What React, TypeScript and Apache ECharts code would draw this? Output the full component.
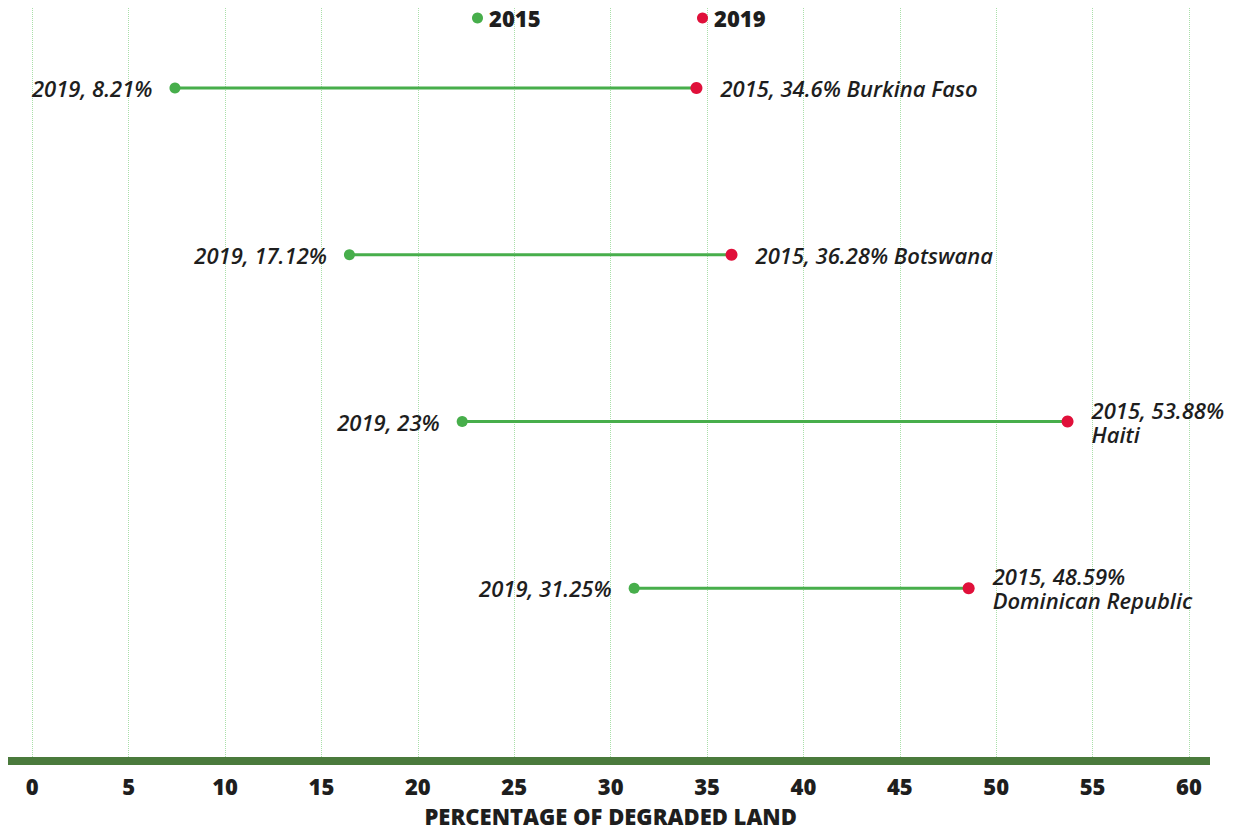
import React, { useEffect, useRef } from "react";
import * as echarts from "echarts";

const countries = ["Burkina Faso", "Botswana", "Haiti", "Dominican Republic"];
const rowPositions = [4, 3, 2, 1];
// green dots (legend "2015"), left ends
const greenValues = [7.4, 16.45, 22.3, 31.22];
// red dots (legend "2019"), right ends
const redValues = [34.45, 36.27, 53.7, 48.57];
const leftLabelTexts = ["2019, 8.21%", "2019, 17.12%", "2019, 23%", "2019, 31.25%"];
const rightLabelHeads = ["2015, 34.6%", "2015, 36.28%", "2015, 53.88%", "2015, 48.59%"];
const rightLabelBreak = [false, false, true, true];
const xTicks = [0, 5, 10, 15, 20, 25, 30, 35, 40, 45, 50, 55, 60];
const legendNames = ["2015", "2019"];

const GREEN = "#47AE4B";
const RED = "#E0103A";
const TEXT = "#1e1e1e";
const FONT = "'Open Sans', 'Noto Sans', sans-serif";

export default function App() {
  const ref = useRef<HTMLDivElement>(null);
  useEffect(() => {
    if (!ref.current) return;
    const chart = echarts.init(ref.current, null, { renderer: "svg" });
    const lineSeries = countries.map((c, i) => ({
      type: "line",
      name: "range-" + c,
      data: [
        [greenValues[i], rowPositions[i]],
        [redValues[i], rowPositions[i]],
      ],
      showSymbol: false,
      symbol: "none",
      silent: true,
      lineStyle: { color: GREEN, width: 3, opacity: 1 },
      z: 2,
    }));
    const labelStyle = {
      show: true,
      color: TEXT,
      fontFamily: FONT,
      fontStyle: "italic",
      fontWeight: 600,
      fontSize: 22,
      lineHeight: 24,
    };
    const legendText = { color: TEXT, fontFamily: FONT, fontWeight: 800, fontSize: 22, padding: [0, 0, 0, 1] };
    chart.setOption({
      animation: false,
      backgroundColor: "#ffffff",
      grid: { left: 32.3, right: 51, top: 8, bottom: 71, containLabel: false },
      legend: [
        {
          data: [legendNames[0]],
          left: 467,
          top: 2,
          icon: "circle",
          itemWidth: 11,
          itemHeight: 11,
          textStyle: legendText,
          selectedMode: false,
        },
        {
          data: [legendNames[1]],
          left: 692,
          top: 2,
          icon: "circle",
          itemWidth: 11,
          itemHeight: 11,
          textStyle: legendText,
          selectedMode: false,
        },
      ],
      xAxis: {
        type: "value",
        min: 0,
        max: 60,
        interval: 5,
        name: "PERCENTAGE OF DEGRADED LAND",
        nameLocation: "middle",
        nameGap: 45,
        nameTextStyle: { color: TEXT, fontFamily: FONT, fontWeight: 800, fontSize: 22 },
        axisLine: { show: false },
        axisTick: { show: false },
        axisLabel: {
          color: TEXT,
          fontFamily: FONT,
          fontWeight: 800,
          fontSize: 22,
          margin: 15,
          formatter: (v: number) => (xTicks.includes(v) ? String(v) : ""),
        },
        splitLine: { show: true, lineStyle: { color: "#a9dfa9", type: "dotted", width: 1 } },
      },
      yAxis: {
        type: "value",
        min: -0.03,
        max: 4.48,
        show: false,
        splitLine: { show: false },
      },
      graphic: [
        {
          type: "rect",
          shape: { x: 8, y: 757, width: 1202, height: 8 },
          style: { fill: "#4A7A3C" },
          z: 100,
        },
      ],
      series: [
        ...lineSeries,
        {
          type: "scatter",
          name: legendNames[0],
          data: greenValues.map((v, i) => [v, rowPositions[i]]),
          symbol: "circle",
          symbolSize: 11,
          itemStyle: { color: GREEN, opacity: 1 },
          z: 3,
          label: {
            ...labelStyle,
            position: "left",
            distance: 17,
            formatter: (p: any) => leftLabelTexts[p.dataIndex],
          },
        },
        {
          type: "scatter",
          name: legendNames[1],
          data: redValues.map((v, i) => [v, rowPositions[i]]),
          symbol: "circle",
          symbolSize: 12,
          itemStyle: { color: RED, opacity: 1 },
          z: 3,
          label: {
            ...labelStyle,
            position: "right",
            distance: 18,
            formatter: (p: any) =>
              rightLabelHeads[p.dataIndex] + (rightLabelBreak[p.dataIndex] ? "\n" : " ") + countries[p.dataIndex],
          },
        },
      ],
    });
    return () => chart.dispose();
  }, []);
  return (
    <div
      ref={ref}
      style={{ position: "fixed", left: 0, top: 0, width: 1240, height: 832, background: "#fff" }}
    />
  );
}
